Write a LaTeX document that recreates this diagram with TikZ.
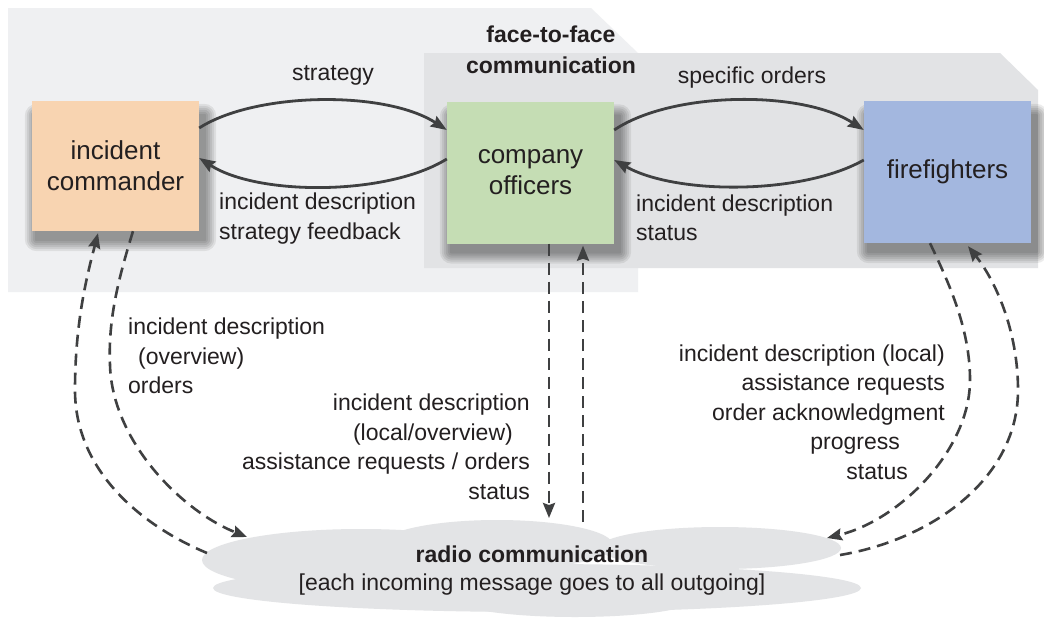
\documentclass[tikz,border=0pt]{standalone}
\usepackage{fontspec}
\setmainfont{Liberation Sans}
\usetikzlibrary{arrows.meta}
\definecolor{txt}{HTML}{231F20}
\definecolor{lnc}{HTML}{3F4041}
\definecolor{panelA}{HTML}{EFF0F2}
\definecolor{panelB}{HTML}{E2E3E5}
\definecolor{cloudc}{HTML}{E3E4E6}
\definecolor{icfill}{HTML}{F8D4B1}
\definecolor{cofill}{HTML}{C5DDB4}
\definecolor{fffill}{HTML}{A3B7DF}
\pgfdeclarelayer{bg}
\pgfdeclarelayer{shadowlayer}
\pgfsetlayers{bg,shadowlayer,main}
\newcommand{\boxshadow}[1]{%
  \foreach \b in {2,4,6,8,10,12}{%
    \fill[black,opacity=0.075,rounded corners=\b pt]
      ([shift={(5-\b,15-\b)}]#1.north west) rectangle ([shift={(5+\b,8+\b)}]#1.south east);}}
\begin{document}
\begin{tikzpicture}[x=1pt,y=-1pt,
  box/.style={rectangle, inner sep=0pt, text=txt, font=\fontsize{26}{31}\selectfont, align=center},
  lbl/.style={inner sep=0pt, text=txt, font=\fontsize{23}{29.5}\selectfont},
  blbl/.style={inner sep=0pt, text=txt, font=\fontsize{23}{31}\selectfont\bfseries},
  flow/.style={draw=lnc, line width=2.8pt, -{Stealth[length=16pt,width=12pt,inset=2pt]}},
  radiolink/.style={draw=lnc, line width=2.6pt, dash pattern=on 12pt off 7pt, -{Stealth[length=15pt,width=12pt,inset=2pt]}},
]
\useasboundingbox (0,0) rectangle (1044,621);

% panels and cloud
\begin{pgfonlayer}{bg}
  \fill[white] (0,0) rectangle (1044,621);
  \fill[panelA] (8,8) -- (591,8) -- (638,53) -- (638,292) -- (8,292) -- cycle;
  \fill[panelB] (424,53) -- (1000,53) -- (1038,90) -- (1038,268) -- (424,268) -- cycle;
  \fill[cloudc] (361,560) ellipse [x radius=159pt, y radius=31pt];
  \fill[cloudc] (497,545) ellipse [x radius=116pt, y radius=25pt];
  \fill[cloudc] (720,548) ellipse [x radius=121pt, y radius=21pt];
  \fill[cloudc] (537,588) ellipse [x radius=324pt, y radius=24pt];
  \fill[cloudc] (575,600) ellipse [x radius=118pt, y radius=17pt];
\end{pgfonlayer}

% boxes
\node[box, fill=icfill, minimum width=167pt, minimum height=130pt] (ic) at (115.5,166) {incident\\commander};
\node[box, fill=cofill, minimum width=167pt, minimum height=142pt] (co) at (530.5,172.5) {company\\officers};
\node[box, fill=fffill, minimum width=167pt, minimum height=142pt] (ff) at (947.5,172) {firefighters};

\begin{pgfonlayer}{shadowlayer}
  \boxshadow{ic}
  \boxshadow{co}
  \boxshadow{ff}
\end{pgfonlayer}

% radio cloud text
\node[lbl, align=center, font=\fontsize{23}{28}\selectfont] (radio) at (532,571)
  {{\bfseries radio communication}\\{[}each incoming message goes to all outgoing]};

% free ends on the cloud
\coordinate (rIC1) at (247,537);
\coordinate (rIC2) at (207,553);
\coordinate (rCO1) at (549,518);
\coordinate (rCO2) at (583,522);
\coordinate (rFF1) at (827,538);
\coordinate (rFF2) at (840,555);

% labels
\node[lbl] (lstrat) at (333,75) {strategy};
\node[blbl, align=center] (lf2f) at (551,50) {face-to-face\\communication};
\node[lbl] (lspec) at (752,78) {specific orders};
\node[lbl, align=left, anchor=west] (lfb) at (219,218.5) {incident description\\strategy feedback};
\node[lbl, align=left, anchor=west] (lst) at (636,218) {incident description\\status};
\node[lbl, align=left, anchor=west] (licd) at (128,356) {incident description\\\hspace*{10pt}(overview)\\orders};
\node[lbl, align=right, anchor=east] (lco) at (530,447)
  {incident description\\(local/overview)\hspace*{17pt}\null\\assistance requests / orders\\status};
\node[lbl, align=right, anchor=east] (lff) at (945,412)
  {incident description (local)\\assistance requests\\order acknowledgment\\progress\hspace*{45pt}\null\\status\hspace*{37pt}\null};

% face-to-face arrows
\draw[flow] ([yshift=38pt]ic.east) .. controls (255,92) and (385,90) .. ([yshift=42.5pt]co.west);
\draw[flow] ([yshift=13.5pt]co.west) .. controls (387,196) and (258,196) .. ([yshift=8pt]ic.east);
\draw[flow] ([yshift=42.5pt]co.east) .. controls (672,91) and (802,90) .. ([yshift=42pt]ff.west);
\draw[flow] ([yshift=12pt]ff.west) .. controls (802,195) and (676,195) .. ([yshift=12.5pt]co.east);

% radio arrows
\draw[radiolink] ([xshift=17.5pt]ic.south) .. controls (118,280) and (108,320) .. (110,365)
  .. controls (112,440) and (180,510) .. (rIC1);
\draw[radiolink] (rIC2) .. controls (140,525) and (75,470) .. (75,390)
  .. controls (75,320) and (88,272) .. ([xshift=-17.5pt,yshift=-2pt]ic.south);
\draw[radiolink] ([xshift=18.5pt]co.south) -- (rCO1);
\draw[radiolink] (rCO2) -- ([xshift=52.5pt,yshift=-2pt]co.south);
\draw[radiolink] ([xshift=-17.5pt]ff.south) .. controls (950,285) and (970,330) .. (970,380)
  .. controls (970,450) and (900,520) .. (rFF1);
\draw[radiolink] (rFF2) .. controls (930,540) and (1018,480) .. (1018,390)
  .. controls (1018,330) and (995,280) .. ([xshift=20.5pt,yshift=-3pt]ff.south);
\end{tikzpicture}
\end{document}
